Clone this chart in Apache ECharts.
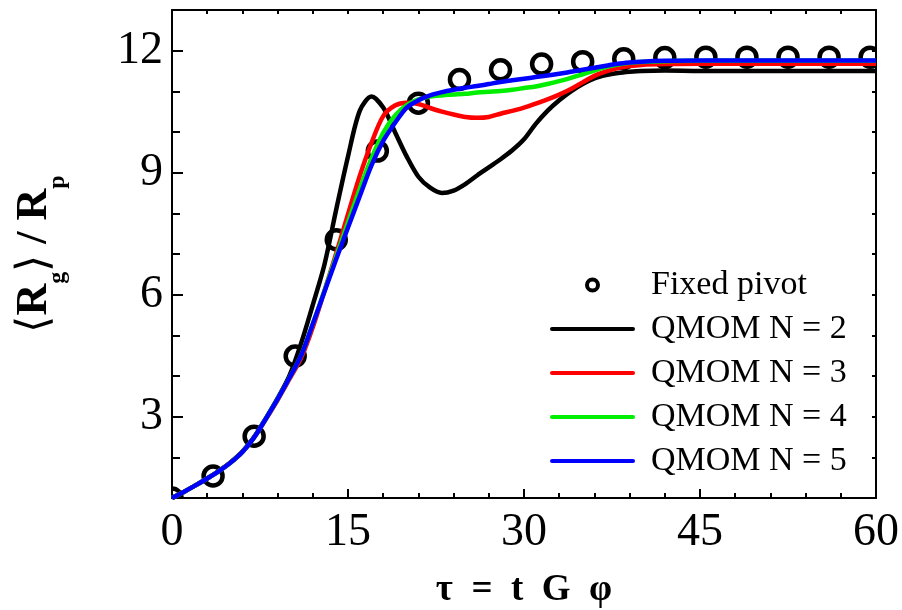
<!DOCTYPE html>
<html><head><meta charset="utf-8">
<script src="https://cdn.jsdelivr.net/npm/echarts@6/dist/echarts.min.js"></script>
<style>html,body{margin:0;padding:0;background:#fff}#c{width:902px;height:610px}</style>
</head><body><div id="c"></div>
<script>
// ---- data ----
const tau = [0,1,2,3,4,5,6,7,8,9,10,11,12,13,14,15,16,17,18,19,20,21,22,23,24,25,26,27,28,29,30,31,32,33,34,35,36,37,38,39,40,42,45,50,55,60];
const qmom2 = [1.00,1.15,1.31,1.48,1.67,1.88,2.14,2.50,2.96,3.45,
  4.00,4.80,5.75,6.75,8.10,9.40,10.52,10.87,10.60,10.00,
  9.40,8.90,8.63,8.50,8.56,8.72,8.93,9.13,9.33,9.55,
  9.82,10.20,10.52,10.78,11.00,11.18,11.32,11.40,11.45,11.48,
  11.50,11.51,11.50,11.50,11.50,11.50];
const qmom3 = [1.00,1.15,1.31,1.48,1.66,1.87,2.13,2.49,2.94,3.41,
  3.92,4.44,5.20,6.10,7.02,7.98,8.92,9.73,10.39,10.65,
  10.72,10.69,10.59,10.50,10.43,10.37,10.35,10.37,10.45,10.52,
  10.60,10.70,10.80,10.92,11.06,11.22,11.38,11.49,11.57,11.62,
  11.65,11.67,11.68,11.68,11.68,11.68];
const qmom4 = [1.00,1.15,1.31,1.48,1.66,1.87,2.13,2.49,2.95,3.43,
  3.95,4.50,5.28,6.10,6.95,7.78,8.60,9.35,9.98,10.40,
  10.66,10.80,10.87,10.90,10.92,10.94,10.97,10.99,11.01,11.04,
  11.08,11.12,11.18,11.25,11.33,11.42,11.51,11.60,11.66,11.70,
  11.72,11.74,11.75,11.75,11.75,11.75];
const qmom5 = [1.00,1.15,1.31,1.48,1.66,1.87,2.13,2.49,2.95,3.43,
  3.95,4.50,5.28,6.08,6.88,7.65,8.42,9.18,9.78,10.22,
  10.60,10.78,10.90,10.98,11.04,11.09,11.13,11.18,11.23,11.27,
  11.31,11.35,11.39,11.43,11.48,11.53,11.58,11.63,11.68,11.71,
  11.73,11.75,11.76,11.76,11.76,11.76];
const pivotTau = [0,3.5,7,10.5,14,17.5,21,24.5,28,31.5,35,38.5,42,45.5,49,52.5,56,59.5];
const pivotR = [1.00,1.54,2.52,4.49,7.35,9.53,10.71,11.29,11.53,11.67,11.73,11.80,11.83,11.84,11.84,11.84,11.84,11.84];
const xTicks = [0,15,30,45,60];
const yTicks = [3,6,9,12];
const seriesNames = ['QMOM N = 2','QMOM N = 3','QMOM N = 4','QMOM N = 5'];
const seriesColors = ['#000000','#ff0000','#00ee00','#0000ff'];

// ---- chart ----
const FONT = 'Liberation Serif';
const chart = echarts.init(document.getElementById('c'), null, {renderer:'canvas'});
const grid = {left:172, right:26, top:10, bottom:112, outerBoundsMode:'none', containLabel:false};
const frame = {show:true, onZero:false, lineStyle:{color:'#000', width:2}};
const lines = [qmom2,qmom3,qmom4,qmom5].map((vals,k)=>({
  type:'line', name:seriesNames[k], xAxisIndex:0, yAxisIndex:0,
  data: tau.map((t,i)=>[t, vals[i]]),
  symbol:'none', smooth:0.3, clip:true, z:3+k,
  lineStyle:{color:seriesColors[k], width:4.5}, itemStyle:{color:seriesColors[k]},
  emphasis:{disabled:true}
}));
const lineIcon = 'path://M2,0L83,0A2,2 0 0 1 83,4L2,4A2,2 0 0 1 2,0Z';
const option = {
  animation:false,
  backgroundColor:'#fff',
  grid:[grid, Object.assign({}, grid)],
  legend:{
    orient:'vertical', left:550, top:268, padding:0, itemGap:10, itemWidth:85, itemHeight:11,
    selectedMode:false,
    textStyle:{fontFamily:FONT, fontSize:34, color:'#000', padding:[0,0,0,11]},
    data:[{name:'Fixed pivot', icon:'circle', itemStyle:{color:'rgba(0,0,0,0)', borderColor:'#000', borderWidth:4}}]
      .concat(seriesNames.map((n,k)=>({name:n, icon:lineIcon, itemStyle:{color:seriesColors[k], borderWidth:0}})))
  },
  xAxis:[
    {gridIndex:0, type:'value', position:'bottom', min:xTicks[0], max:xTicks[xTicks.length-1], interval:15,
     axisLine:frame,
     axisTick:{show:true, inside:true, length:9, lineStyle:{color:'#000', width:2}},
     minorTick:{show:true, splitNumber:5, length:5, lineStyle:{color:'#000', width:2}},
     splitLine:{show:false}, minorSplitLine:{show:false},
     axisLabel:{fontFamily:FONT, fontSize:46, color:'#000', margin:12},
     name:'τ  =  t  G  φ', nameLocation:'middle', nameGap:74,
     nameTextStyle:{fontFamily:FONT, fontSize:37, fontWeight:'bold', color:'#000'}},
    {gridIndex:0, type:'value', position:'top', min:0, max:60, interval:3,
     axisLine:frame,
     axisTick:{show:true, inside:true, length:4, lineStyle:{color:'#000', width:2}},
     axisLabel:{show:false}, splitLine:{show:false}},
    {gridIndex:1, type:'value', min:0, max:60, show:false}
  ],
  yAxis:[
    {gridIndex:0, type:'value', position:'left', min:1, max:13, interval:1,
     axisLine:frame,
     axisTick:{show:true, inside:true, length:11, customValues:yTicks, lineStyle:{color:'#000', width:2}},
     axisLabel:{customValues:yTicks, fontFamily:FONT, fontSize:46, color:'#000', margin:9},
     splitLine:{show:false},
     name:'{b|⟨}{m|R}{s|g}{b|⟩}{m| / R}{s|p}', nameLocation:'middle', nameGap:102, nameRotate:90,
     nameTextStyle:{color:'#000', rich:{
       b:{fontFamily:FONT, fontSize:44, fontWeight:'normal', color:'#000', verticalAlign:'top'},
       m:{fontFamily:FONT, fontSize:44, fontWeight:'bold', color:'#000', verticalAlign:'top'},
       s:{fontFamily:FONT, fontSize:24, fontWeight:'bold', color:'#000', verticalAlign:'top', padding:[33,0,0,0]}
     }}},
    {gridIndex:0, type:'value', position:'right', min:1, max:13, interval:1,
     axisLine:frame,
     axisTick:{show:true, inside:true, length:4, lineStyle:{color:'#000', width:2}},
     axisLabel:{show:false}, splitLine:{show:false}},
    {gridIndex:1, type:'value', position:'left', min:1, max:13, interval:1,
     axisLine:{show:false},
     axisTick:{show:true, inside:true, length:8, lineStyle:{color:'#000', width:2}},
     axisLabel:{show:false}, splitLine:{show:false}}
  ],
  series:[{
    type:'custom', name:'Fixed pivot', xAxisIndex:0, yAxisIndex:0, clip:true, z:2,
    itemStyle:{color:'#000'},
    data: pivotTau.map((t,i)=>[t, pivotR[i]]),
    renderItem:function(params, api){
      const p = api.coord([api.value(0), api.value(1)]);
      return {type:'circle', shape:{cx:p[0], cy:p[1], r:9.5}, style:{fill:null, stroke:'#000', lineWidth:4.5}};
    }
  }].concat(lines)
};
chart.setOption(option);
</script></body></html>
